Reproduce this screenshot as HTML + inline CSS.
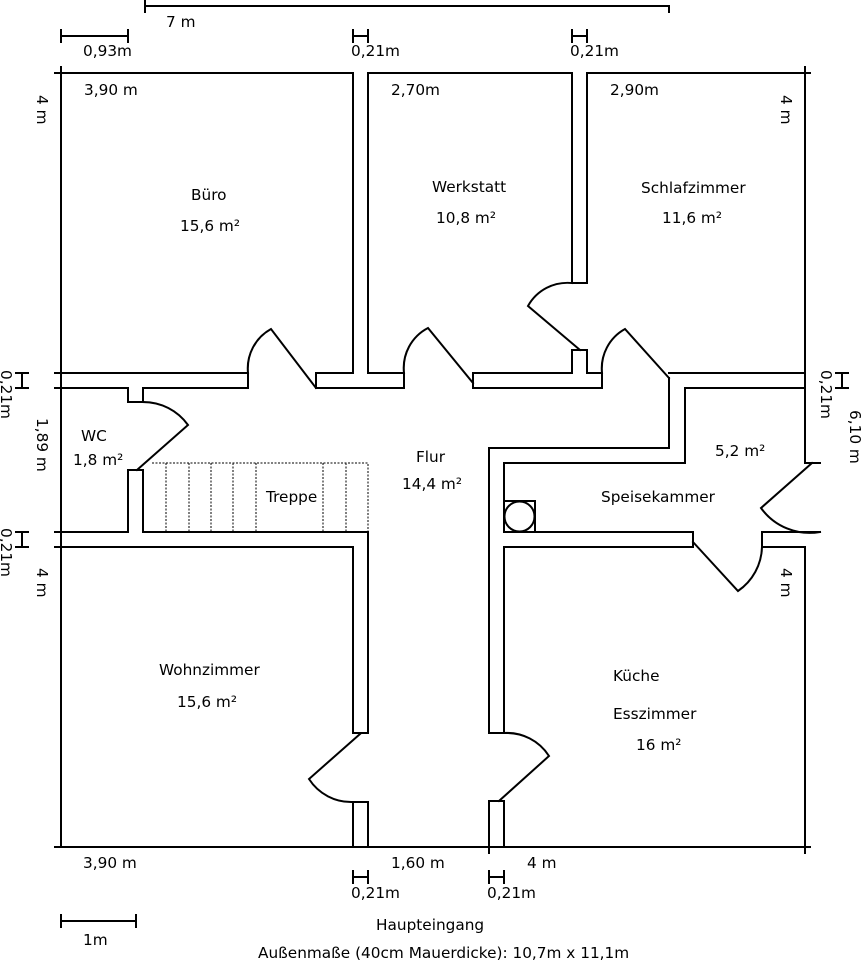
<!DOCTYPE html>
<html><head><meta charset="utf-8"><style>
html,body{margin:0;padding:0;background:#fff}
svg{display:block}
text{font-family:"DejaVu Sans","Liberation Sans",sans-serif;font-size:15.3px;fill:#000}
</style></head><body>
<svg width="867" height="960" viewBox="0 0 867 960" xmlns="http://www.w3.org/2000/svg">
<g fill="none" stroke="#000" stroke-width="2" stroke-linecap="square">
<path d="M55 73H353V373M368 373V73H572V283H587V73H810"/>
<path d="M805 67V463H820"/>
<path d="M61 67V847"/>
<path d="M55 373H248V388H143V402H128V388H55"/>
<path d="M353 373H316V388H404V373H368"/>
<path d="M473 373H572V350H587V373H602V388H473Z"/>
<path d="M669 373H805M685 388H805"/>
<path d="M248 373A45 45 0 0 1 271 329L316 388"/>
<path d="M404 373A45 45 0 0 1 428 328L473 383"/>
<path d="M572 283A45 45 0 0 0 528 306L580 350"/>
<path d="M602 373A45 45 0 0 1 625 329L669 378"/>
<path d="M669 378V448H489V733"/>
<path d="M685 388V463H504V532H693V547H504V733"/>
<rect x="504" y="501" width="31" height="31"/>
<circle cx="519.5" cy="516.5" r="15"/>
<path d="M812 463L761 508A60 60 0 0 0 820 532"/>
<path d="M820 532H762V547H805V847"/>
<path d="M693 542L738 591A55 55 0 0 0 762 547"/>
<path d="M143 402A55 55 0 0 1 188 425L137 470"/>
<path d="M128 532V470H143V532"/>
<path d="M55 532H128M143 532H368V733"/>
<path d="M55 547H353V733"/>
<path d="M353 733H368"/>
<path d="M360 734L309 779A50 50 0 0 0 353 802"/>
<path d="M353 847V802H368V847"/>
<path d="M489 733H504"/>
<path d="M504 733A50 50 0 0 1 549 756L499 801"/>
<path d="M489 847V801H504V847"/>
<path d="M55 847H810"/>
<path d="M145 0V12M145 6H669V12"/>
<path d="M61 30V42M61 36H128M128 30V42"/>
<path d="M353 30V42M353 36H368M368 30V42"/>
<path d="M572 30V42M572 36H587M587 30V42"/>
<path d="M16 373H28M22 373V388M16 388H28"/>
<path d="M16 532H28M22 532V547M16 547H28"/>
<path d="M836 373H848M842 373V388M836 388H848"/>
<path d="M353 871V883M353 877H368M368 871V883"/>
<path d="M489 871V883M489 877H504M504 871V883"/>
<path d="M61 915V927M61 921H136M136 915V927"/>
<path d="M805 841V853M489 841V853"/>
</g>
<g fill="none" stroke="#000" stroke-width="1" stroke-dasharray="2,1.5">
<path d="M152 463H368V532M166 463V532M189 463V532M211 463V532M233 463V532M256 463V532M323 463V532M346 463V532"/>
</g>
<text x="166" y="27">7 m</text>
<text x="83" y="56">0,93m</text>
<text x="351" y="56">0,21m</text>
<text x="570" y="56">0,21m</text>
<text x="84" y="95">3,90 m</text>
<text x="391" y="95">2,70m</text>
<text x="610" y="95">2,90m</text>
<text x="191" y="200">Büro</text>
<text x="180" y="231">15,6 m²</text>
<text x="432" y="192">Werkstatt</text>
<text x="436" y="223">10,8 m²</text>
<text x="641" y="193">Schlafzimmer</text>
<text x="662" y="223">11,6 m²</text>
<text x="81" y="441">WC</text>
<text x="73" y="465">1,8 m²</text>
<text x="266" y="502">Treppe</text>
<text x="416" y="462">Flur</text>
<text x="402" y="489">14,4 m²</text>
<text x="715" y="456">5,2 m²</text>
<text x="601" y="502">Speisekammer</text>
<text x="159" y="675">Wohnzimmer</text>
<text x="177" y="707">15,6 m²</text>
<text x="613" y="681">Küche</text>
<text x="613" y="719">Esszimmer</text>
<text x="636" y="750">16 m²</text>
<text x="83" y="868">3,90 m</text>
<text x="391" y="868">1,60 m</text>
<text x="527" y="868">4 m</text>
<text x="351" y="898">0,21m</text>
<text x="487" y="898">0,21m</text>
<text x="376" y="930">Haupteingang</text>
<text x="83" y="945">1m</text>
<text x="258" y="958">Außenmaße (40cm Mauerdicke): 10,7m x 11,1m</text>
<text transform="translate(37,95) rotate(90)">4 m</text>
<text transform="translate(781,95) rotate(90)">4 m</text>
<text transform="translate(37,418) rotate(90)">1,89 m</text>
<text transform="translate(37,568) rotate(90)">4 m</text>
<text transform="translate(781,568) rotate(90)">4 m</text>
<text transform="translate(1,370) rotate(90)">0,21m</text>
<text transform="translate(1,528) rotate(90)">0,21m</text>
<text transform="translate(821,370) rotate(90)">0,21m</text>
<text transform="translate(850,410) rotate(90)">6,10 m</text>
</svg>
</body></html>
